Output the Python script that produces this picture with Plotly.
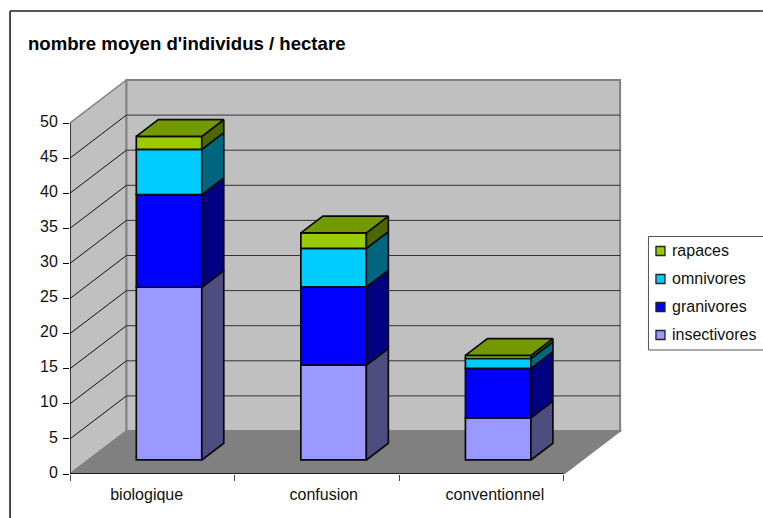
import plotly.graph_objects as go

# ---- data -------------------------------------------------------------
categories = ["biologique", "confusion", "conventionnel"]
insectivores = [24.6, 13.5, 6.0]
granivores = [13.2, 11.15, 7.05]
omnivores = [6.45, 5.5, 1.4]
rapaces = [1.85, 2.2, 0.45]
series_names = ["insectivores", "granivores", "omnivores", "rapaces"]
y_ticks = [0, 5, 10, 15, 20, 25, 30, 35, 40, 45, 50]
title_text = "nombre moyen d'individus / hectare"

# ---- style ------------------------------------------------------------
W, H = 763, 518
PX_L, PX_R, PX_T, PX_B = 69.5, 626.0, 75.0, 474.0
PX_PER_X, PX_PER_Y = 164.7, 7.02
FONT = "Liberation Sans"
front_cols = ["#9999FF", "#0000FF", "#00CCFF", "#99CC00"]
side_cols = ["#4D4D80", "#000080", "#006680", "#4D6600"]
top_col = "#739900"
EDGE = "#0A0A0A"
EW = 1.7

X0 = -0.5
XMAX = X0 + (PX_R - PX_L) / PX_PER_X
YMAX = (PX_B - PX_T) / PX_PER_Y
X_END = 2.5
Y_END = 50

WALL_DX, WALL_DY = 56.5 / PX_PER_X, 43 / PX_PER_Y
BAR_OFF_X, BAR_OFF_Y = 0.102, 2.0
BAR_DX, BAR_DY = 22 / PX_PER_X, 16.7 / PX_PER_Y
BAR_W = 0.398
label_shift = [-0.034, 0.042, 0.082]


def px(v):
    return (v - PX_L) / (PX_R - PX_L)


def py(v):
    return (PX_B - v) / (PX_B - PX_T)


series = [insectivores, granivores, omnivores, rapaces]
fig = go.Figure()

# stacked front faces + side faces + top face
cum = [BAR_OFF_Y] * len(categories)
xpos = [i + BAR_OFF_X for i in range(len(categories))]
for name, vals, fc, sc in zip(series_names, series, front_cols, side_cols):
    fig.add_trace(go.Bar(x=xpos, y=vals, base=list(cum), width=BAR_W, name=name,
                         marker=dict(color=fc, line=dict(color=EDGE, width=EW)),
                         showlegend=False))
    sx, sy = [], []
    for xc, b, v in zip(xpos, cum, vals):
        r = xc + BAR_W / 2
        sx += [r, r + BAR_DX, r + BAR_DX, r, r, None]
        sy += [b, b + BAR_DY, b + v + BAR_DY, b + v, b, None]
    fig.add_trace(go.Scatter(x=sx, y=sy, mode="lines", fill="toself", fillcolor=sc,
                             line=dict(color=EDGE, width=EW), showlegend=False,
                             hoverinfo="skip"))
    cum = [c + v for c, v in zip(cum, vals)]

tx, ty = [], []
for xc, t in zip(xpos, cum):
    l, r = xc - BAR_W / 2, xc + BAR_W / 2
    tx += [l, l + BAR_DX, r + BAR_DX, r, l, None]
    ty += [t, t + BAR_DY, t + BAR_DY, t, t, None]
fig.add_trace(go.Scatter(x=tx, y=ty, mode="lines", fill="toself", fillcolor=top_col,
                         line=dict(color=EDGE, width=EW), showlegend=False,
                         hoverinfo="skip"))

# ---- walls, floor, gridlines (below the bars) ---------------------------
shapes = []


def poly(pts, fill, line, width=1.5):
    d = "M" + "L".join(f"{x},{y}" for x, y in pts) + "Z"
    shapes.append(dict(type="path", path=d, xref="x", yref="y", layer="below",
                       fillcolor=fill, line=dict(color=line, width=width)))


def seg(x0, y0, x1, y1, color, width=1, layer="below"):
    shapes.append(dict(type="line", xref="x", yref="y", x0=x0, y0=y0, x1=x1, y1=y1,
                       layer=layer, line=dict(color=color, width=width)))


bx0, bx1 = X0 + WALL_DX, X_END + WALL_DX
poly([(X0, 0), (bx0, WALL_DY), (bx0, Y_END + WALL_DY), (X0, Y_END)], "#C0C0C0", "#808080")
poly([(bx0, WALL_DY), (bx1, WALL_DY), (bx1, Y_END + WALL_DY), (bx0, Y_END + WALL_DY)],
     "#C0C0C0", "#808080", 2)
poly([(X0, 0), (X_END, 0), (bx1, WALL_DY), (bx0, WALL_DY)], "#808080", "#808080")
for v in y_ticks[1:-1]:
    seg(X0, v, bx0, v + WALL_DY, "#111111")
    seg(bx0, v + WALL_DY, bx1, v + WALL_DY, "#333333")
seg(X0, 0, X_END, 0, "#000000", 1.5)
seg(X0, 0, X0, Y_END, "#000000", 1.2)


def pline(x0, y0, x1, y1, color, width):
    shapes.append(dict(type="line", xref="paper", yref="paper", x0=px(x0), x1=px(x1),
                       y0=py(y0), y1=py(y1), line=dict(color=color, width=width)))


# outer chart frame (left and top edges)
pline(9.5, 11, 9.5, 518, "#111111", 1.5)
pline(9.5, 11, 763, 11, "#222222", 1.5)

# ---- legend ---------------------------------------------------------------
annotations = []
LG_L, LG_R, LG_T, LG_B = 648.5, 763, 236.5, 350
shapes.append(dict(type="rect", xref="paper", yref="paper", x0=px(LG_L), x1=px(LG_R + 2),
                   y0=py(LG_B), y1=py(LG_T), fillcolor="white",
                   line=dict(color="#555555", width=1)))
legend_y = [251, 279, 307, 335]
for name, fc, ly in zip(series_names[::-1], front_cols[::-1], legend_y):
    shapes.append(dict(type="rect", xref="paper", yref="paper",
                       x0=px(656), x1=px(665), y0=py(ly + 4.5), y1=py(ly - 4.5),
                       fillcolor=fc, line=dict(color="#222222", width=1.3)))
    annotations.append(dict(text=name, xref="paper", yref="paper", x=px(670), y=py(ly - 1),
                            xanchor="left", yanchor="middle", showarrow=False,
                            font=dict(family=FONT, size=16, color="#111111")))

# title
annotations.append(dict(text=f"<b>{title_text}</b>", xref="paper", yref="paper",
                        x=px(25), y=py(44), xanchor="left", yanchor="middle",
                        showarrow=False, font=dict(family=FONT, size=18.6, color="black")))

fig.update_layout(
    width=W, height=H, autosize=False, paper_bgcolor="white", plot_bgcolor="rgba(0,0,0,0)",
    margin=dict(l=PX_L, r=W - PX_R, t=PX_T, b=H - PX_B, pad=0),
    barmode="overlay", showlegend=False, shapes=shapes, annotations=annotations,
    font=dict(family=FONT, size=16, color="#111111"),
    xaxis=dict(range=[X0, XMAX], showgrid=False, zeroline=False, showline=False,
               tickmode="array",
               tickvals=[i + s for i, s in enumerate(label_shift)], ticktext=categories,
               ticks="outside", ticklen=6, tickcolor="rgba(0,0,0,0)",
               tickfont=dict(family=FONT, size=16),
               minor=dict(tickmode="array", tickvals=[-0.5, 0.5, 1.5, 2.5], ticks="outside",
                          ticklen=6, tickcolor="#444444", tickwidth=1, showgrid=False)),
    yaxis=dict(range=[0, YMAX], showgrid=False, zeroline=False, showline=False,
               tickmode="array", tickvals=y_ticks, ticks="outside", ticklen=6,
               ticklabelstandoff=2, ticklabelshift=-2,
               tickcolor="#000000", tickwidth=1, tickfont=dict(family=FONT, size=16)),
)

fig.write_html("out.html", config={"displayModeBar": False},
               post_script="document.body.style.margin='0';document.body.style.overflow='hidden';")
